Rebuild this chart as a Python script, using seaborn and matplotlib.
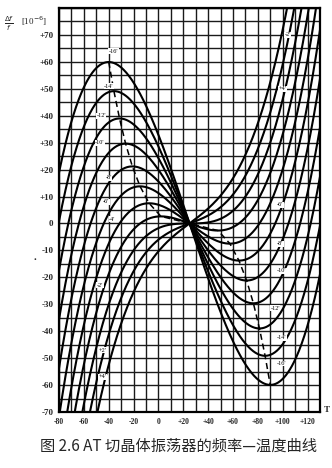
import numpy as np
import pandas as pd
import matplotlib
matplotlib.use("Agg")
import matplotlib.pyplot as plt
import seaborn as sns

# ---------------- data ----------------
sample_T = [-80, -50, -20, 25, 70, 100, 130]          # temperature (deg C)
curve_names = ["-16'", "-14'", "-12'", "-10'", "-8'", "-6'", "-4'", "-2'",
               "0'", "+2'", "+4'"]
c_m16 = [18.9, 57.7, 52.3, 0, -52.3, -57.7, -18.9]
c_m14 = [0.8, 44.8, 44.6, 0, -44.6, -44.8, -0.8]
c_m12 = [-17.4, 31.8, 36.8, 0, -36.8, -31.8, 17.4]
c_m10 = [-35.6, 18.8, 29.0, 0, -29.0, -18.8, 35.6]
c_m8 = [-53.7, 5.8, 21.2, 0, -21.2, -5.8, 53.7]
c_m6 = [-71.9, -7.1, 13.4, 0, -13.4, 7.1, 71.9]
c_m4 = [-90.1, -20.1, 5.6, 0, -5.6, 20.1, 90.1]
c_m2 = [-108.2, -33.1, -2.2, 0, 2.2, 33.1, 108.2]
c_0 = [-126.4, -46.1, -10.0, 0, 10.0, 46.1, 126.4]
c_p2 = [-144.6, -59.1, -17.7, 0, 17.7, 59.1, 144.6]
c_p4 = [-162.7, -72.0, -25.5, 0, 25.5, 72.0, 162.7]
curve_values = [c_m16, c_m14, c_m12, c_m10, c_m8, c_m6, c_m4, c_m2,
                c_0, c_p2, c_p4]

# dashed locus through the turning points
locus_T = [-40, -35.8, -31.3, -26.4, -21, -14.8, -7.5, 2, 25,
           48, 57.5, 64.8, 71, 76.4, 81.3, 85.8, 90]
locus_f = [60, 49.1, 39, 29.6, 21.2, 13.8, 7.5, 2.65, 0,
           -2.65, -7.5, -13.8, -21.2, -29.6, -39, -49.1, -60]

# curve labels (text, T, value)
label_text = ["-16'", "-14'", "-12'", "-10'", "-8'", "-6'", "-4'",
              "-6'", "-8'", "-10'", "-12'", "-14'", "-16'",
              "-2'", "+4'", "-2'", "+2'", "+4'"]
label_T = [-36, -40, -46, -47, -40, -42, -37,
           98, 98, 99, 94, 99, 99,
           104, 100, -47, -45, -45]
label_f = [64, 51, 40, 30, 17, 8, 1.5,
           7, -7.5, -17.5, -31.5, -42.5, -52,
           70, 50, -23, -47, -57]

xticks = [-80, -60, -40, -20, 0, 20, 40, 60, 80, 100, 120]
xtick_labels = ["-80", "-60", "-40", "-20", "0", "+20", "+40", "+60", "+80", "+100", "+120"]
yticks = [70, 60, 50, 40, 30, 20, 10, 0, -10, -20, -30, -40, -50, -60, -70]
ytick_labels = ["+70", "+60", "+50", "+40", "+30", "+20", "+10", "0",
                "-10", "-20", "-30", "-40", "-50", "-60", "-70"]
caption = "图 2.6 AT 切晶体振荡器的频率—温度曲线"

# ---------------- build smooth curves through the read points ----------------
T_fine = np.linspace(-80, 130, 400)
rows = []
for name, vals in zip(curve_names, curve_values):
    coef = np.polyfit(sample_T, vals, 3)
    for t, v in zip(T_fine, np.polyval(coef, T_fine)):
        rows.append((name, t, v))
df = pd.DataFrame(rows, columns=["curve", "T", "f"])
df_locus = pd.DataFrame({"T": locus_T, "f": locus_f})

# ---------------- figure ----------------
sns.set_theme(style="white")
plt.rcParams["font.family"] = ["Liberation Serif", "DejaVu Sans"]

fig = plt.figure(figsize=(3.32, 4.68), dpi=100)
ax = fig.add_axes([59 / 332, 1 - 412 / 468, 261 / 332, 404 / 468])

# grid
for gx in range(-80, 131, 10):
    ax.axvline(gx, color="#1a1a1a", lw=1.0, zorder=1)
for gy in range(-70, 81, 5):
    ax.axhline(gy, color="#1a1a1a", lw=1.0, zorder=1)

sns.lineplot(data=df, x="T", y="f", units="curve", estimator=None,
             color="black", lw=1.5, ax=ax, legend=False, zorder=3, sort=False)
sns.lineplot(data=df_locus, x="T", y="f", estimator=None, color="black",
             lw=1.1, ax=ax, legend=False, zorder=3, sort=False,
             linestyle=(0, (4, 2.5)))

for t, x, y in zip(label_text, label_T, label_f):
    ax.text(x, y, t, fontsize=4.5, ha="center", va="center", color="black",
            zorder=5, bbox=dict(facecolor="white", edgecolor="none", pad=0.3))

ax.set_xlim(-80, 130)
ax.set_ylim(-70, 80)
ax.set_xticks(xticks)
ax.set_xticklabels(xtick_labels, fontsize=5.5, fontweight="bold")
ax.set_yticks(yticks)
ax.set_yticklabels(ytick_labels, fontsize=6.5, fontweight="bold")
ax.tick_params(length=0, pad=4)
ax.set_xlabel("")
ax.set_ylabel("")
for s in ax.spines.values():
    s.set_color("black")
    s.set_linewidth(1.6)

fig.text(4 / 332, 1 - 24 / 468, r"$\frac{\Delta f}{f}$", fontsize=7.5, va="center", ha="left")
fig.text(21 / 332, 1 - 21 / 468, r"[10$^{-6}$]", fontsize=6.5, va="center", ha="left")
fig.text(35 / 332, 1 - 257 / 468, ".", fontsize=8, fontweight="bold", ha="center", va="center")
fig.text(327 / 332, 1 - 410 / 468, "T", fontsize=6.5, fontweight="bold", ha="center", va="center")
fig.text(178 / 332, 1 - 446 / 468, caption, fontsize=11, ha="center", va="center",
         family=["Noto Sans CJK SC", "DejaVu Sans"])

fig.savefig("out.png", dpi=100)
